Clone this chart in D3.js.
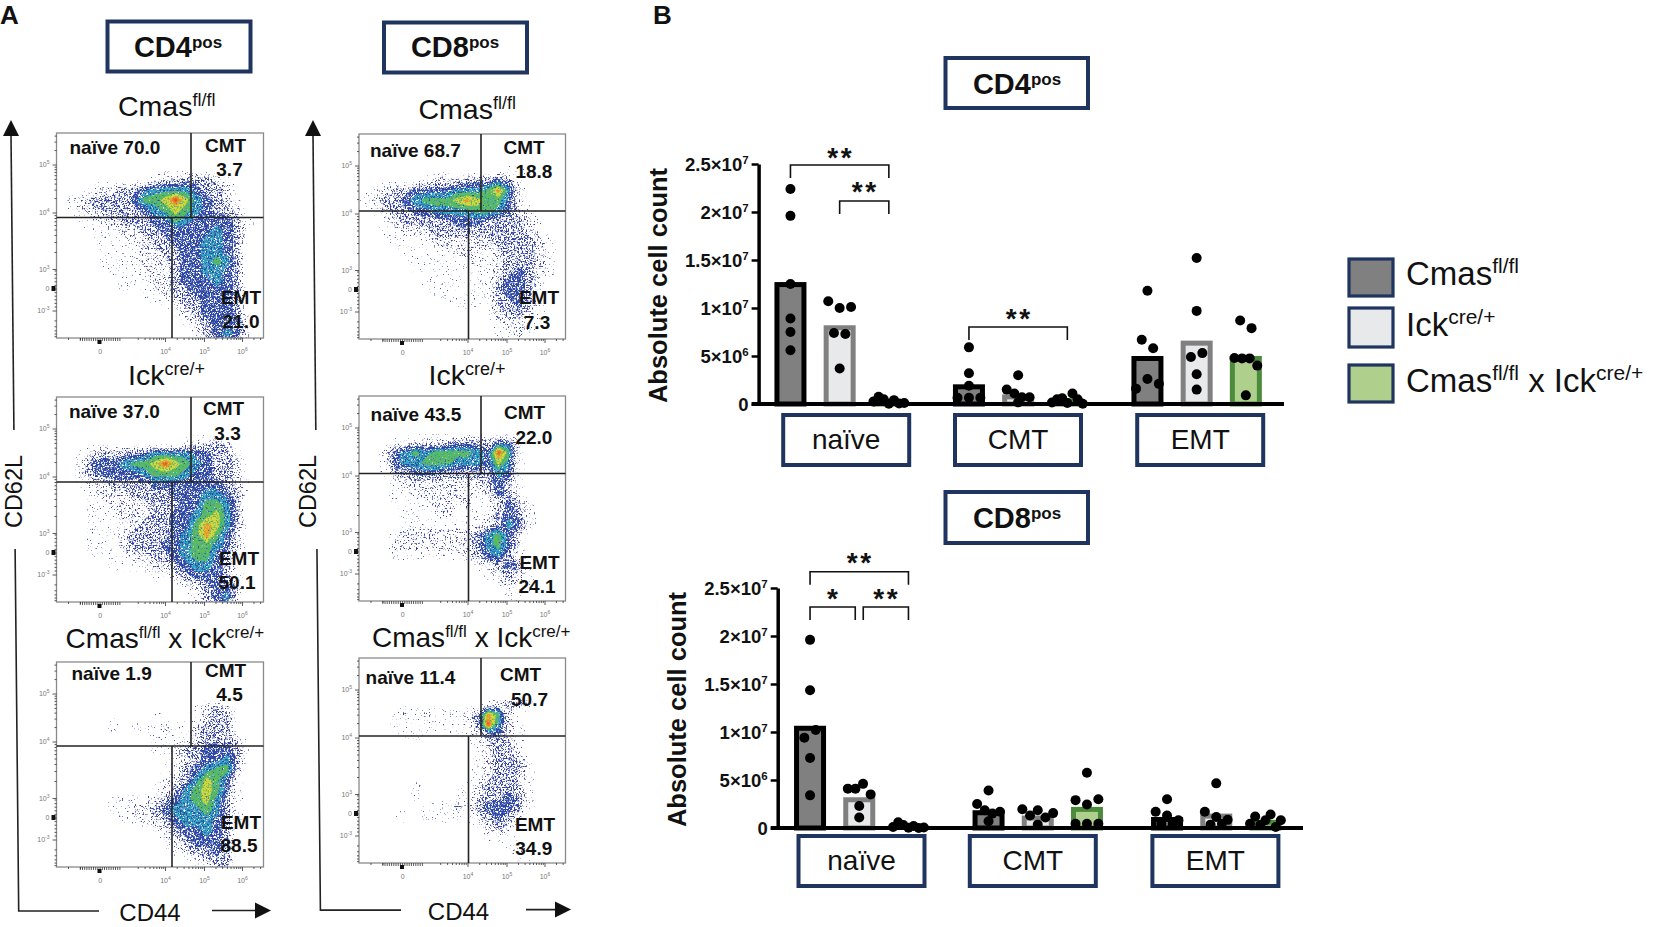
<!DOCTYPE html>
<html><head><meta charset="utf-8">
<script src="https://cdn.jsdelivr.net/npm/d3@7/dist/d3.min.js"></script>
<style>
html,body{margin:0;padding:0;background:#fff}
svg{display:block}
text{font-family:"Liberation Sans",Arial,sans-serif;fill:#111}
</style></head><body>
<svg id="chart" width="1654" height="927" viewBox="0 0 1654 927"></svg>
<script>
// ---------- Data ----------
const genotypes = ["Cmas fl/fl","Ick cre/+","Cmas fl/fl x Ick cre/+"];
const subsets = ["naïve","CMT","EMT"];
const yTicks = [0,5e6,1e7,1.5e7,2e7,2.5e7];
const yTickMantissa = ["0","5×10","1×10","1.5×10","2×10","2.5×10"];
const yTickPower = ["","6","7","7","7","7"];

const cd4Means = [[12.7e6,8.2e6,0.4e6],[2.05e6,1.0e6,0.6e6],[5.0e6,6.6e6,5.0e6]];
const cd4Naive = [[22.4e6,19.6e6,12.5e6,8.9e6,7.5e6,5.6e6],[10.7e6,10.0e6,10.1e6,7.4e6,7.3e6,3.7e6],[0.25e6,0.75e6,0.5e6,0.02e6,0.4e6,0.05e6,0.1e6]];
const cd4Cmt = [[5.9e6,3.2e6,1.9e6,0.65e6,0.65e6,0.65e6],[3.0e6,1.5e6,1.1e6,0.7e6,0.7e6,0.17e6],[0.15e6,0.5e6,0.6e6,0.1e6,1.1e6,0.5e6,0.02e6]];
const cd4Emt = [[11.8e6,6.7e6,5.8e6,1.6e6,2.6e6,2.1e6],[15.2e6,9.7e6,4.9e6,5.3e6,3.1e6,1.5e6],[8.7e6,7.9e6,4.8e6,4.75e6,4.75e6,4.0e6,0.9e6]];

const cd8Means = [[10.65e6,3.2e6,0.25e6],[1.85e6,1.3e6,2.2e6],[1.15e6,1.5e6,0.85e6]];
const cd8Naive = [[19.6e6,14.35e6,9.4e6,10.2e6,7.3e6,3.4e6],[4.1e6,4.1e6,4.6e6,3.5e6,2.3e6,1.1e6],[0.1e6,0.6e6,0.3e6,0.02e6,0.2e6,0.01e6,0.05e6]];
const cd8Cmt = [[3.9e6,2.5e6,1.85e6,1.5e6,1.7e6,0.7e6],[1.95e6,1.3e6,1.85e6,1.1e6,1.55e6,0.35e6],[5.75e6,2.9e6,2.45e6,3.0e6,0.45e6,0.45e6,0.45e6]];
const cd8Emt = [[3.0e6,1.7e6,1.3e6,0.8e6,0.45e6,0.45e6],[4.65e6,1.7e6,1.15e6,0.85e6,0.35e6,0.45e6],[0.45e6,1.2e6,0.3e6,0.8e6,1.4e6,0.1e6,0.8e6]];

// Flow plot densities read by eye, 20 x 20 cells, 0 = empty ... 9 = hottest.
const cd4CmasDensity = ["00000000000000000000","00000000000000000000","00000000000000000000","00000000000000000000",
"00000000012233321000","00012233455554332000","01233334667975432100","01223333456765433200","00112233344654444310",
"00011122334444454310","00001112233444554300","00001111223344554300","00001111222344565300","00000111122344554300",
"00000011122344454300","00000010112334444300","00000000011233444300","00000000000123444310","00000000000012344410","00000000000001345420"];
const cd4IckDensity = ["00000000000000000000","00000000000000000000","00000000000000000000","00000000000000000000",
"00000000000012232000","00123333455554433100","00244456679765433200","00234444566654433200","00122333344444443210",
"00012223333444554300","00011222233344665300","00011122233445675300","00011112333446875300","00011123333456864200",
"00011123334456654200","00011112233456643100","00000111122345543100","00000000011234443100","00000000000012344200","00000000000001345200"];
const cd4BothDensity = ["00000000000000000000","00000000000000000000","00000000000000000000","00000000000000000000",
"00000000000001232000","00000100011101233000","00000101112112333000","00000000011112333200","00000000011233444310",
"00000000000123445300","00000000001134566300","00000000001235764100","00000000012356764100","00000111123456753100",
"00000112234555653100","00000011223455543100","00000000012344543000","00000000001234443000","00000000000123343000","00000000000001233000"];
const cd8CmasDensity = ["00000000000000000000","00000000000000000000","00000000000000000000","00000000000000111000",
"00000012223334310000","01233444455568520000","12334566678766420000","01233445555665421000","00123333344433332100",
"00112223333333332100","00011112222223333210","00001111122212333210","00000111111212333210","00000101111112343210",
"00000011111113443100","00000001111113443100","00000000011113343100","00000000000012332100","00000000000001221000","00000000000001121000"];
const cd8IckDensity = ["00000000000000000000","00000000000000000000","00000000000000000000","00000000000000000000",
"00011222233324420000","00245656666549610000","00145566655547510000","00133444333335410000","00012222222234310000",
"00011222222124310000","00011112212112431000","00001111211123431000","00001111111123542000","00012222222356420000",
"00022222222356420000","00011111112345310000","00000000000123431000","00000000000012321000","00000000000001211000","00000000000000110000"];
const cd8BothDensity = ["00000000000000000000","00000000000000000000","00000000000000000000","00000000000000000000",
"00000000000012332000","00012121112386200000","00011111111395210000","00001110011234210000","00000000000123310000",
"00000000000123320000","00000000000123331000","00000000000123321000","00000100001233331000","00000100011233431000",
"00000011121344431000","00011011111234320000","00000000000123210000","00000000000011100000","00000000000000110000","00000000000000011000"];

// ---------- Helpers ----------
const svg = d3.select("#chart");
const navy = "#1f3560";
const defs = svg.append("defs");

function rich(sel, parts, big, small, lift){
  let up = false;
  const d = big*(lift||0.36);
  parts.forEach(([t,sup])=>{
    const ts = sel.append("tspan").text(t).style("font-size",(sup?small:big)+"px");
    if(sup && !up){ts.attr("dy",-d);up=true;}
    else if(!sup && up){ts.attr("dy",d);up=false;}
  });
  return sel;
}
function label(x,y,parts,big,small,anchor,weight,lift){
  const t = svg.append("text").attr("x",x).attr("y",y)
    .attr("text-anchor",anchor||"start").style("font-weight",weight||"normal");
  return rich(t,parts,big,small,lift);
}
function box(x0,y0,x1,y1,sw){
  svg.append("rect").attr("x",x0).attr("y",y0).attr("width",x1-x0).attr("height",y1-y0)
    .attr("fill","#fff").attr("stroke",navy).attr("stroke-width",sw||4);
}
function titleBox(x0,y0,x1,y1,name,cx,base){
  box(x0,y0,x1,y1);
  label(cx,base,[[name,false],["pos",true]],29,17,"middle","bold",0.3);
}

// ---------- Noise filters giving the speckled look of the flow plots ----------
const speckle = [[1,0.68,9],[2,0.6,9],[3,0.52,9],[4,0.43,9],[5,0.4,6],[6,0.28,5],[7,0.3,4],[8,0.3,4]];
speckle.forEach(([id,t,s])=>{
  const f = defs.append("filter").attr("id","sp"+id).attr("x","-5%").attr("y","-5%").attr("width","110%").attr("height","110%")
    .attr("color-interpolation-filters","sRGB");
  f.append("feTurbulence").attr("type","fractalNoise").attr("baseFrequency",0.62).attr("numOctaves",2).attr("seed",id*3).attr("result","n");
  f.append("feColorMatrix").attr("in","n").attr("type","matrix")
    .attr("values",`0 0 0 0 0 0 0 0 0 0 0 0 0 0 0 ${s} 0 0 0 ${-s*t}`).attr("result","m");
  f.append("feComposite").attr("in","SourceGraphic").attr("in2","m").attr("operator","in");
});
const soft = defs.append("filter").attr("id","soft").attr("color-interpolation-filters","sRGB");
soft.append("feGaussianBlur").attr("stdDeviation",0.9);
const levelFill = {1:"#4650ad",2:"#36409f",3:"#2f3f9f",4:"#2d4aa6",5:"#2aa9c0",6:"#5cbb5e",7:"#dcd83a",8:"#f0922c",9:"#e6241b"};

// ---------- Flow panels ----------
const contourGen = d3.contours().size([20,20]);
const yOff = d3.scaleLinear().domain([3,4,5,6]).range([136.5,80,32,-16]);
const xOff = d3.scaleLinear().domain([3,4,5,6,7]).range([70,109,148,186,224]);

function facsPanel(p){
  const w=p.x1-p.x0,h=p.y1-p.y0;
  const gx=d3.scaleLinear().domain([0,20]).range([p.x0,p.x1]);
  const gy=d3.scaleLinear().domain([0,20]).range([p.y0,p.y1]);
  const values=p.grid.join("").split("").map(Number);
  const path=d3.geoPath(d3.geoTransform({point(x,y){this.stream.point(gx(x),gy(y));}}));
  const cid="clip"+p.id;
  defs.append("clipPath").attr("id",cid).append("rect").attr("x",p.x0).attr("y",p.y0).attr("width",w).attr("height",h);
  const g=svg.append("g").attr("clip-path",`url(#${cid})`);
  for(let l=1;l<=9;l++){
    const c=contourGen.thresholds([l<6?l-0.55:l-0.5])(values)[0];
    const pth=g.append("path").attr("d",path(c)).attr("fill",levelFill[l]);
    if(l<=8) pth.attr("filter",`url(#sp${l})`);
    else pth.attr("filter","url(#soft)");
  }
  svg.append("rect").attr("x",p.x0).attr("y",p.y0).attr("width",w).attr("height",h)
    .attr("fill","none").attr("stroke","#8a8a8a").attr("stroke-width",1.3);
  const tickG=svg.append("g").attr("stroke","#333").attr("stroke-width",0.8);
  const vt=(o,len)=>tickG.append("line").attr("x1",p.x0).attr("x2",p.x0-len).attr("y1",p.y0+o).attr("y2",p.y0+o);
  const ht=(o,len)=>tickG.append("line").attr("y1",p.y1).attr("y2",p.y1+len).attr("x1",p.x0+o).attr("x2",p.x0+o);
  [3,4,5].forEach(e=>{
    vt(yOff(e),4);
    d3.range(2,10).forEach(k=>{const o=yOff(e+Math.log10(k)); if(o>2) vt(o,2);});
  });
  d3.range(-5,6).forEach(i=>vt(156+i*3.6,2));
  [178].forEach(o=>vt(o,4));
  d3.range(2,10).forEach(k=>{const o=178+33*Math.log10(k); if(o<h-1) vt(o,2);});
  [3,4,5,6].forEach(e=>{
    if(e>3) ht(xOff(e),4);
    d3.range(2,10).forEach(k=>{const o=xOff(e+Math.log10(k)); if(o<w-1) ht(o,2);});
  });
  d3.range(-9,10).forEach(i=>ht(43.6+i*2.2,3));
  [24,12].forEach(o=>ht(o,2));
  svg.append("rect").attr("x",p.x0-5).attr("y",p.y0+153).attr("width",4).attr("height",5).attr("fill","#111");
  svg.append("rect").attr("x",p.x0+41).attr("y",p.y1+2).attr("width",4).attr("height",4).attr("fill","#111");
  const tiny=(x,y,e,a)=>{
    const t=svg.append("text").attr("x",x).attr("y",y).attr("text-anchor",a).style("fill","#777");
    rich(t,e===null?[["0",false]]:[["10",false],[e,true]],7,5);
  };
  tiny(p.x0-7,p.y0+yOff(5)+2,"5","end");
  tiny(p.x0-7,p.y0+yOff(4)+2,"4","end");
  tiny(p.x0-7,p.y0+yOff(3)+2,"3","end");
  tiny(p.x0-7,p.y0+158,null,"end");
  tiny(p.x0-7,p.y0+180,"-3","end");
  tiny(p.x0+43.6,p.y1+16,null,"middle");
  tiny(p.x0+xOff(4),p.y1+16,"4","middle");
  tiny(p.x0+xOff(5),p.y1+16,"5","middle");
  tiny(p.x0+xOff(6),p.y1+16,"6","middle");
  const gate=svg.append("g").attr("stroke","#222").attr("stroke-width",1.6);
  gate.append("line").attr("x1",p.x0).attr("x2",p.x1).attr("y1",p.h).attr("y2",p.h);
  gate.append("line").attr("x1",p.vU).attr("x2",p.vU).attr("y1",p.y0).attr("y2",p.h);
  gate.append("line").attr("x1",p.vL).attr("x2",p.vL).attr("y1",p.h).attr("y2",p.y1);
  const b=(x,y,s,a)=>svg.append("text").attr("x",x).attr("y",y).attr("text-anchor",a||"middle")
    .style("font-weight","bold").style("font-size","19px").text(s);
  b(p.nx,p.ny,"naïve "+p.nv,"start");
  b(p.cx-3.5,p.cy,"CMT"); b(p.cvx-3.5,p.cvy,p.cv);
  b(p.ex-4,p.ey-3.5,"EMT"); b(p.evx-4,p.evy-3.5,p.ev);
}

[
 {id:1,grid:cd4CmasDensity,x0:56.5,x1:263.5,y0:133,y1:338,h:217.5,vU:191,vL:172,nx:69.5,ny:153.5,nv:"70.0",cx:229,cy:152,cvx:233,cvy:176,cv:"3.7",ex:245,ey:307,evx:245,evy:331.5,ev:"21.0"},
 {id:2,grid:cd4IckDensity,x0:56.5,x1:263.5,y0:397,y1:602,h:482,vU:191,vL:172,nx:69,ny:418,nv:"37.0",cx:227,cy:415,cvx:231,cvy:439.5,cv:"3.3",ex:243,ey:568,evx:241,evy:592,ev:"50.1"},
 {id:3,grid:cd4BothDensity,x0:56.5,x1:263.5,y0:662,y1:867,h:746,vU:191,vL:172,nx:71.5,ny:680,nv:"1.9",cx:229,cy:676.6,cvx:233,cvy:701.4,cv:"4.5",ex:245,ey:832,evx:243,evy:855,ev:"88.5"},
 {id:4,grid:cd8CmasDensity,x0:359,x1:565.5,y0:134,y1:339,h:211,vU:481,vL:468.5,nx:370,ny:157,nv:"68.7",cx:527.6,cy:154,cvx:537.4,cvy:178,cv:"18.8",ex:543,ey:307.7,evx:541,evy:332,ev:"7.3"},
 {id:5,grid:cd8IckDensity,x0:359,x1:565.5,y0:396,y1:601,h:473.5,vU:481,vL:468.5,nx:370.6,ny:420.8,nv:"43.5",cx:528,cy:419,cvx:537.4,cvy:443.5,cv:"22.0",ex:543.5,ey:572.7,evx:541,evy:596.4,ev:"24.1"},
 {id:6,grid:cd8BothDensity,x0:359,x1:565.5,y0:658,y1:863,h:736,vU:481,vL:468.5,nx:365.6,ny:683.8,nv:"11.4",cx:524,cy:681,cvx:533,cvy:705.5,cv:"50.7",ex:539,ey:834.7,evx:537.8,evy:858.4,ev:"34.9"}
].forEach(facsPanel);

// ---------- Panel letters, boxes, genotype headings ----------
label(0,24,[["A",false]],26,26,"start","bold");
label(653,24,[["B",false]],26,26,"start","bold");
titleBox(107.5,21.5,250.5,71.5,"CD4",178,57);
titleBox(384,22.5,527,72.5,"CD8",455,57);

const cmasRuns=[["Cmas",false],["fl/fl",true]];
const ickRuns=[["Ick",false],["cre/+",true]];
const bothRuns=[["Cmas",false],["fl/fl",true],[" x Ick",false],["cre/+",true]];
label(118,116,cmasRuns,28.5,18);
label(418.5,119,cmasRuns,28.5,18);
label(128,385,ickRuns,28.5,18);
label(428.5,385,ickRuns,28.5,18);
label(65.6,648,bothRuns,28,17);
label(372,647,bothRuns,28,17);

// ---------- Arrow frames ----------
function arrows(tx,bx,hEnd,aStart,aEnd,ay,cdx,cd62){
  const l=svg.append("g").attr("stroke","#222").attr("stroke-width",1.6).attr("fill","none");
  const lineX=d3.scaleLinear().domain([135,ay+0.5]).range([tx,bx]);
  l.append("line").attr("x1",tx).attr("y1",135).attr("x2",lineX(430)).attr("y2",430);
  l.append("polyline").attr("points",`${lineX(549)},549 ${bx},${ay+0.5} ${hEnd},${ay+0.5}`);
  l.append("line").attr("x1",aStart).attr("x2",aEnd-12).attr("y1",ay).attr("y2",ay);
  svg.append("path").attr("d",`M${tx-8},136 L${tx},120 L${tx+8},136 Z`).attr("fill","#111");
  svg.append("path").attr("d",`M${aEnd-16},${ay-8} L${aEnd},${ay} L${aEnd-16},${ay+8} Z`).attr("fill","#111");
  svg.append("text").attr("x",cdx).attr("y",ay+10).attr("text-anchor","middle").style("font-size","24px").text("CD44");
  svg.append("text").attr("transform",`translate(${cd62},491.5) rotate(-90)`).attr("text-anchor","middle").style("font-size","23.5px").text("CD62L");
}
arrows(11,18.7,99,212,271,910.5,150,22);
arrows(313,320.4,401,526,571,909.6,458.5,316);

// ---------- Bar panels ----------
const barStyle=[{fill:"#808080",stroke:"#000"},{fill:"#e8e9ea",stroke:"#808080"},{fill:"#afd08c",stroke:"#4c8a3c"}];
function swarmSlots(vals,perM){
  const out=[];let i=0;
  while(i<vals.length){
    let j=i+1;
    while(j<vals.length && Math.abs(vals[j]-vals[i])<=perM) j++;
    const n=j-i, sp=n<=3?11.4:(22.8/(n-1))*(n>4?1.35:1);
    for(let k=i;k<j;k++) out.push([vals[k],(k-i-(n-1)/2)*sp]);
    i=j;
  }
  return out;
}
function barPanel(o){
  const y=d3.scaleLinear().domain([0,2.5e7]).range([o.y0,o.yTop]);
  const gx=d3.scaleBand().domain(subsets).range([o.xStart,o.xStart+535.5]);
  const ix=d3.scaleBand().domain(genotypes).range([-73.8,73.8]);
  const g=svg.append("g");
  const center=(s,i)=>gx(s)+gx.bandwidth()/2+ix(genotypes[i])+ix.bandwidth()/2;
  const bw=27;
  subsets.forEach((s,si)=>{
    genotypes.forEach((gt,i)=>{
      const c=center(s,i),st=barStyle[i];
      g.append("rect").attr("x",c-bw/2).attr("width",bw)
        .attr("y",y(o.means[si][i])+2.5).attr("height",Math.max(0,o.y0-y(o.means[si][i])-2.5))
        .attr("fill",st.fill).attr("stroke",st.stroke).attr("stroke-width",5);
    });
  });
  const ax=svg.append("g").attr("transform",`translate(${o.axisX},0)`)
    .call(d3.axisLeft(y).tickValues(yTicks).tickSize(7).tickSizeOuter(0).tickPadding(3).tickFormat(""));
  ax.select(".domain").attr("stroke","#000").attr("stroke-width",3.5);
  ax.selectAll(".tick line").attr("stroke","#000").attr("stroke-width",2.5);
  ax.selectAll(".tick text").remove();
  yTicks.forEach((v,i)=>{
    const t=svg.append("text").attr("x",o.axisX-10).attr("y",y(v)+7).attr("text-anchor","end").style("font-weight","bold");
    rich(t,yTickPower[i]?[[yTickMantissa[i],false],[yTickPower[i],true]]:[[yTickMantissa[i],false]],18.5,11.5);
  });
  svg.append("line").attr("x1",o.axisX-7).attr("x2",o.xEnd).attr("y1",o.y0).attr("y2",o.y0).attr("stroke","#000").attr("stroke-width",4);
  svg.append("text").attr("transform",`translate(${o.titleX},${(o.y0+o.yTop)/2+1.5}) rotate(-90)`)
    .attr("text-anchor","middle").style("font-weight","bold").style("font-size","25.5px").text("Absolute cell count");
  subsets.forEach((s,si)=>{
    o.points[si].forEach((vals,i)=>{
      g.selectAll(null).data(swarmSlots(vals,1.1e6)).join("circle")
        .attr("cx",d=>center(s,i)+d[1]).attr("cy",d=>Math.min(y(d[0]),o.y0)).attr("r",5).attr("fill","#000");
    });
    const c=o.boxCenters[si];
    box(c-63,o.boxTop,c+63,o.boxTop+50);
    svg.append("text").attr("x",c).attr("y",o.boxTop+34).attr("text-anchor","middle").style("font-size","28px").text(s);
  });
  o.brackets.forEach(b=>{
    const xa=center(b.s,b.a)+(b.da||0),xb=center(b.s,b.b)+(b.db||0);
    svg.append("path").attr("d",`M${xa},${b.y+13}V${b.y}H${xb}V${b.y+13}`).attr("fill","none").attr("stroke","#111").attr("stroke-width",1.6);
    svg.append("text").attr("x",(xa+xb)/2+1).attr("y",b.y-b.up+15).attr("text-anchor","middle")
      .style("font-weight","bold").style("font-size","28px").style("letter-spacing","2.6px").text(b.t);
  });
}
barPanel({means:cd4Means,points:[cd4Naive,cd4Cmt,cd4Emt],y0:404,yTop:164,xStart:750.4,xEnd:1284,axisX:758.6,titleX:667,boxTop:415,boxCenters:[846.2,1018,1200.2],
  brackets:[{s:"naïve",a:0,b:2,y:165,up:13,t:"**"},{s:"naïve",a:1,b:2,y:201,up:15,t:"**"},{s:"CMT",a:0,b:2,y:327,up:14,t:"**"}]});
barPanel({means:cd8Means,points:[cd8Naive,cd8Cmt,cd8Emt],y0:828,yTop:588,xStart:770,xEnd:1303,axisX:777.7,titleX:686,boxTop:836,boxCenters:[861.5,1032.8,1215.4],
  brackets:[{s:"naïve",a:0,b:2,y:571.7,up:15,t:"**"},{s:"naïve",a:0,b:1,y:607,up:14,t:"*",db:-4},{s:"naïve",a:1,b:2,y:607,up:14,t:"**",da:4}]});
titleBox(945.5,58,1088,108,"CD4",1017,94);
titleBox(945.5,492,1088,543,"CD8",1017,528);

// ---------- Legend ----------
[[259,296,cmasRuns,285],[308,347,ickRuns,336],[365,402,bothRuns,392]].forEach(([a,b,runs,base],i)=>{
  svg.append("rect").attr("x",1349).attr("y",a).attr("width",44).attr("height",b-a)
    .attr("fill",["#808080","#e8e9ea","#afd08c"][i]).attr("stroke",navy).attr("stroke-width",3.2);
  label(1406,base,runs,33,21);
});
</script></body></html>
